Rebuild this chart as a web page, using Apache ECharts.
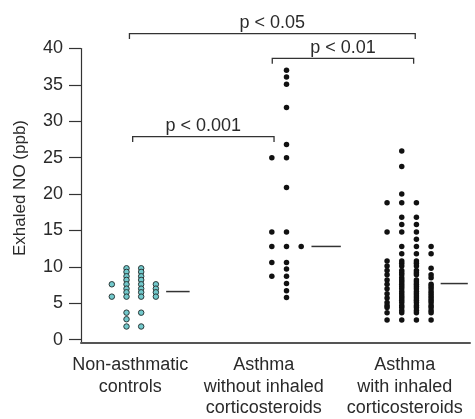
<!DOCTYPE html>
<html>
<head>
<meta charset="utf-8">
<script src="https://cdn.jsdelivr.net/npm/echarts@6/dist/echarts.min.js"></script>
<style>
  html, body { margin: 0; padding: 0; background: #fff; }
  #chart { width: 475px; height: 419px; }
</style>
</head>
<body>
<div id="chart"></div>
<script>
// Group names shown under the axis
const categories = [
  'Non-asthmatic\ncontrols',
  'Asthma\nwithout inhaled\ncorticosteroids',
  'Asthma\nwith inhaled\ncorticosteroids'
];

// Y-axis ticks (ppb)
const yTicks = [0, 5, 10, 15, 20, 25, 30, 35, 40];

// Exhaled NO (ppb), one inner array per dot column
const controls = [
  [7.6, 5.9],
  [9.8, 9.3, 8.7, 8.2, 7.6, 7.0, 6.5, 5.9, 3.7, 2.8, 1.8],
  [9.8, 9.3, 8.7, 8.2, 7.6, 7.0, 6.5, 5.9, 3.7, 1.8],
  [7.6, 7.0, 6.5, 5.9]
];
const asthmaNoICS = [
  [25.0, 14.8, 12.8, 10.6, 8.7],
  [37.0, 36.1, 35.1, 31.9, 26.8, 25.0, 20.9, 14.8, 12.8, 10.6, 9.7, 8.7, 7.7, 6.7, 5.8],
  [12.8]
];
const asthmaICS = [
  [18.8, 14.8, 10.8, 10.1, 9.5, 8.9, 8.2, 7.6, 7.0, 6.3, 5.7, 5.1, 4.7, 4.4, 3.7, 2.7],
  [25.9, 23.8, 20.0, 18.8, 16.8, 15.8, 14.8, 12.8, 11.8, 10.8, 10.5, 10.1,
   9.5, 9.2, 8.9, 8.5, 8.2, 7.9, 7.6, 7.3, 7.0, 6.6, 6.3, 6.0, 5.7, 5.4, 5.1, 4.7, 4.4, 4.0, 3.7, 2.7],
  [18.8, 16.8, 15.8, 14.8, 13.8, 12.8, 11.8, 10.8, 10.5, 10.1,
   9.5, 9.2, 8.9, 8.2, 7.9, 7.6, 7.3, 7.0, 6.6, 6.3, 6.0, 5.7, 5.4, 5.1, 4.7, 4.4, 4.0, 3.7, 2.7],
  [12.8, 11.8, 9.8, 8.9, 8.5, 7.6, 7.3, 7.0, 6.6, 6.3, 6.0, 5.7, 5.4, 5.1, 4.7, 4.4, 4.0, 3.7, 2.7]
];

// Group medians (ppb)
const medians = [6.6, 12.8, 7.7];

// Significance annotations
const pLabels = ['p < 0.05', 'p < 0.01', 'p < 0.001'];

// ---- layout (x positions on a 0..26.5 strip) ----
const groups = [controls, asthmaNoICS, asthmaICS];
const columnX = [[2.1, 3.1, 4.1, 5.1], [13, 14, 15], [20.85, 21.85, 22.85, 23.85]];
const medianSpan = [[5.8, 7.4], [15.7, 17.7], [24.5, 26.35]];
const labelX = [3.35, 12.45, 22.05];
// bracket: [xFrom, xTo, level in ppb]
const bracketPos = [[3.3, 22.77, 42.05], [13.03, 22.66, 38.65], [3.52, 13.15, 27.9]];

function columnsToPoints(cols, xs) {
  const pts = [];
  cols.forEach((col, i) => col.forEach(v => pts.push([xs[i], v])));
  return pts;
}

const textColor = '#2a2a2a';
const fontFamily = '"Liberation Sans", Arial, Helvetica, sans-serif';

const chart = echarts.init(document.getElementById('chart'), null, { renderer: 'canvas' });

chart.setOption({
  animation: false,
  backgroundColor: '#fff',
  grid: { left: 81, right: 5, top: 48.5, bottom: 65, containLabel: false },
  xAxis: {
    type: 'value',
    min: 0,
    max: 26.5,
    splitLine: { show: false },
    axisTick: { show: false },
    axisLine: { show: true, onZero: false, lineStyle: { color: '#555', width: 2 } },
    axisLabel: {
      show: true,
      customValues: labelX,
      margin: 12,
      color: textColor,
      fontSize: 18,
      lineHeight: 21.5,
      fontFamily: fontFamily,
      align: 'center',
      formatter: function (val) {
        let best = 0;
        labelX.forEach((x, i) => { if (Math.abs(x - val) < Math.abs(labelX[best] - val)) best = i; });
        return categories[best];
      }
    }
  },
  yAxis: {
    type: 'value',
    min: -0.4,
    max: 40,
    name: 'Exhaled NO (ppb)',
    nameLocation: 'middle',
    nameGap: 52,
    nameTextStyle: { color: textColor, fontSize: 17, fontFamily: fontFamily, padding: [0, 0, 0, 15] },
    splitLine: { show: false },
    axisLine: { show: true, onZero: false, lineStyle: { color: '#333', width: 1.2 } },
    axisTick: { show: true, inside: false, length: 12, customValues: yTicks, lineStyle: { color: '#333', width: 1.2 } },
    axisLabel: {
      customValues: yTicks,
      margin: 18,
      color: textColor,
      fontSize: 18,
      fontFamily: fontFamily
    }
  },
  series: [
    {
      type: 'scatter',
      data: columnsToPoints(groups[0], columnX[0]),
      symbol: 'circle',
      symbolSize: 5.5,
      itemStyle: { color: '#72c9cc', borderColor: '#2a3838', borderWidth: 1, opacity: 1 },
      z: 3
    },
    {
      type: 'scatter',
      data: columnsToPoints(groups[1], columnX[1]),
      symbol: 'circle',
      symbolSize: 5.5,
      itemStyle: { color: '#111', opacity: 1 },
      z: 3
    },
    {
      type: 'scatter',
      data: columnsToPoints(groups[2], columnX[2]),
      symbol: 'circle',
      symbolSize: 5.5,
      itemStyle: { color: '#111', opacity: 1 },
      z: 3
    },
    {
      // median bars beside each group
      type: 'custom',
      data: medians.map((m, i) => [medianSpan[i][0], medianSpan[i][1], m]),
      clip: false,
      renderItem: function (params, api) {
        const a = api.coord([api.value(0), api.value(2)]);
        const b = api.coord([api.value(1), api.value(2)]);
        return {
          type: 'line',
          shape: { x1: a[0], y1: a[1], x2: b[0], y2: b[1] },
          style: { stroke: '#333', lineWidth: 1.5 }
        };
      },
      z: 2
    },
    {
      // significance brackets
      type: 'custom',
      data: bracketPos.map((b, i) => [b[0], b[1], b[2], i]),
      clip: false,
      renderItem: function (params, api) {
        const l = api.coord([api.value(0), api.value(2)]);
        const r = api.coord([api.value(1), api.value(2)]);
        const drop = 5.5;
        const label = pLabels[api.value(3)];
        return {
          type: 'group',
          children: [
            {
              type: 'polyline',
              shape: { points: [[l[0], l[1] + drop], [l[0], l[1]], [r[0], r[1]], [r[0], r[1] + drop]] },
              style: { stroke: '#333', lineWidth: 1.3, fill: null }
            },
            {
              type: 'text',
              style: {
                text: label,
                x: (l[0] + r[0]) / 2,
                y: l[1] - 10.5,
                align: 'center',
                verticalAlign: 'middle',
                fill: textColor,
                fontSize: 18,
                fontFamily: fontFamily
              }
            }
          ]
        };
      },
      z: 2
    }
  ]
});
</script>
</body>
</html>
